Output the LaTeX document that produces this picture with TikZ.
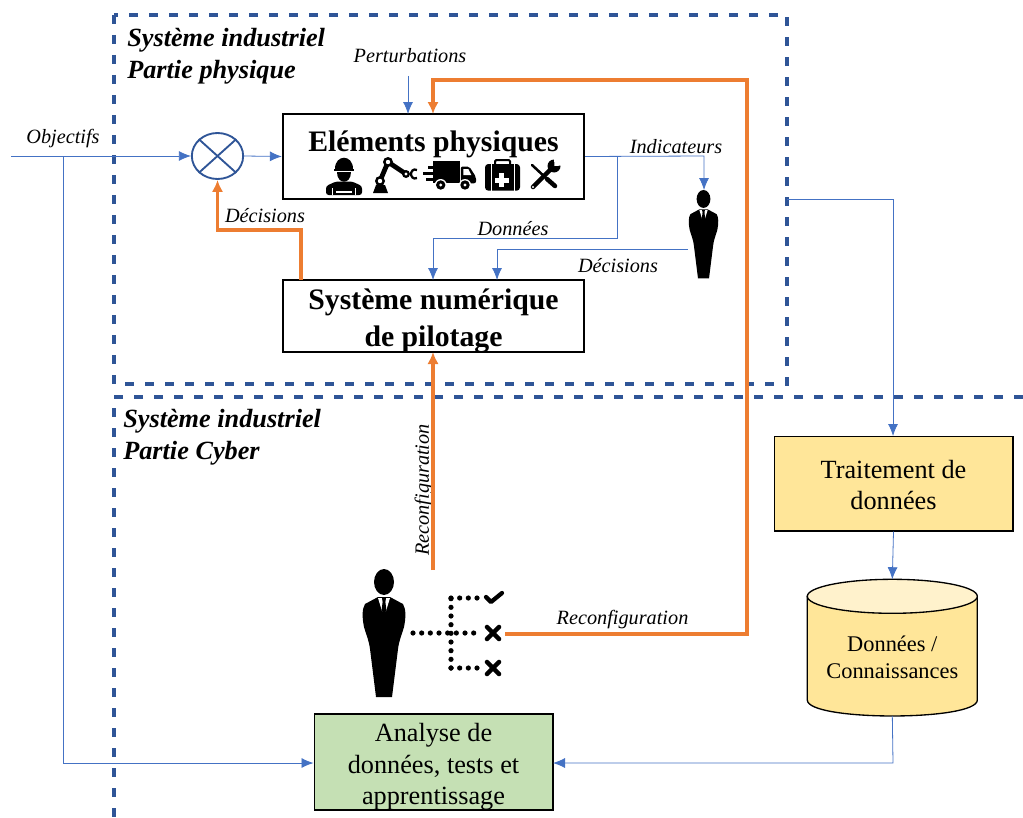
\documentclass[tikz,border=0pt]{standalone}
\usepackage{fontspec}
\setmainfont{Liberation Serif}
\usetikzlibrary{shapes.geometric, arrows.meta}
\definecolor{cadre}{HTML}{2F5597}
\definecolor{bleu}{HTML}{4472C4}
\definecolor{orange}{HTML}{ED7D31}
\definecolor{jaune}{HTML}{FFE699}
\definecolor{jauneclair}{HTML}{FFF2CC}
\definecolor{vert}{HTML}{C5E0B4}
\tikzstyle{module} = [rectangle, minimum width=226pt, draw=black, line width=1.5pt, text centered, align=center, inner sep=0pt]
\tikzstyle{flux} = [draw=bleu, line width=0.6pt, -{Latex[length=9pt,width=7.5pt]}]
\tikzstyle{action} = [draw=orange, line width=2.3pt, -{Latex[length=9pt,width=8.5pt]}]
\tikzstyle{legende} = [font=\fontsize{15.2pt}{18pt}\itshape\selectfont, inner sep=0pt]
\tikzstyle{titre} = [font=\fontsize{19.7pt}{24pt}\bfseries\itshape\selectfont, anchor=west, align=left, inner sep=0pt]
\tikzstyle{cadreligne} = [draw=cadre, line width=2.4pt, dash pattern=on 6.75pt off 8.25pt]
\tikzset{
    person/.pic={
        \fill[black] (0,13) ellipse (10 and 13);
        \fill[black] (-6,28) -- (-19,35) .. controls (-22,40) and (-22,48) .. (-20,58)
            .. controls (-17,68) and (-15,72) .. (-14,80) -- (-8,128) -- (8,128) -- (14,80)
            .. controls (15,72) and (17,68) .. (20,58) .. controls (22,48) and (22,40) .. (19,35) -- (6,28) -- cycle;
        \fill[white] (-6,29) -- (6,29) -- (2,42) -- (-2,42) -- cycle;
        \fill[black] (-2,29) -- (2,29) -- (1.4,33) -- (2.4,41) -- (0,44) -- (-2.4,41) -- (-1.4,33) -- cycle;
    },
    worker/.pic={
        \fill[black] (-9,-7) .. controls (-9,-22) and (9,-22) .. (9,-7) -- cycle;
        \fill[black] (-10,-7) rectangle (10,-5);
        \fill[black] (-7,-4) .. controls (-7,9) and (7,9) .. (7,-4) -- cycle;
        \fill[black, rounded corners=2pt] (-18,19) -- (-18,10) -- (-8,5.5) -- (8,5.5) -- (18,10) -- (18,19) -- cycle;
        \fill[white] (-12,19) -- (-12,12) -- (-10.8,12) -- (-10.8,19) -- cycle;
        \fill[white] (12,19) -- (12,12) -- (10.8,12) -- (10.8,19) -- cycle;
        \fill[white] (-8,15) rectangle (8,16.5);
    },
    robotarm/.pic={
        \fill[black] (-7,12) -- (-4,4) -- (5,4) -- (8,12) -- cycle;
        \draw[black, line width=3.6pt] (0,0) -- (8,-19);
        \draw[black, line width=3.6pt] (8,-19) -- (26,-7);
        \fill[black] (0,0) circle (5);
        \fill[white] (0,0) circle (2.2);
        \fill[black] (8,-19) circle (5);
        \fill[white] (8,-19) circle (2.2);
        \fill[black] (26,-7) circle (4);
        \fill[white] (26,-7) circle (1.7);
        \draw[black, line width=1.7pt] (37,-11) .. controls (33,-13) and (31,-9) .. (31,-7) .. controls (31,-5) and (33,-1) .. (37,-3);
    },
    truck/.pic={
        \fill[black] (-17,-15) rectangle (9.5,7.3);
        \fill[black, rounded corners=1.5pt] (10.5,-9.5) -- (19,-9.5) -- (25.7,1) -- (25.7,7.3) -- (10.5,7.3) -- cycle;
        \fill[white] (13,-7) -- (18,-7) -- (21,-1) -- (13,-1) -- cycle;
        \fill[black] (-22,-10) rectangle (-17,-7.5);
        \fill[black] (-27,-4) rectangle (-17,-1.5);
        \fill[black] (-24,2) rectangle (-17,4.5);
        \foreach \roue in {-9.6,14.7} {
            \fill[white] (\roue,9) circle (6);
            \fill[black] (\roue,9) circle (4.7);
            \fill[white] (\roue,9) circle (1.7);
        }
    },
    medkit/.pic={
        \fill[black, rounded corners=2.5pt] (-17,-11) rectangle (18,15.7);
        \draw[black, line width=1.5pt, rounded corners=1pt] (-7,-11) -- (-7,-15) -- (8,-15) -- (8,-11);
        \fill[white] (-11.5,-11) rectangle (-10.5,15.7);
        \fill[white] (11.8,-11) rectangle (12.8,15.7);
        \fill[white] (-2.8,-2) rectangle (2.2,12);
        \fill[white] (-7.3,2.5) rectangle (6.7,7.5);
    },
    tools/.pic={
        \draw[black, line width=1.9pt, line cap=round] (-12,-11) -- (2,2);
        \draw[black, line width=3.4pt, line cap=round] (3,3) -- (11,10);
        \draw[black, line width=3.4pt, line cap=round] (-11,11) -- (9,-9);
        \fill[white] (-11,11) circle (1.2);
        \fill[black] (10,-10) circle (6.5);
        \fill[white] (10.5,-10) -- (10,-18) -- (19,-18) -- (18.5,-10.5) -- cycle;
    },
    checklist/.pic={
        \draw[black, line width=3.9pt, line cap=round, dash pattern=on 0pt off 6.5pt] (0,0) -- (67,0);
        \draw[black, line width=3.9pt, line cap=round, dash pattern=on 0pt off 6.5pt] (38,-35) -- (67,-35);
        \draw[black, line width=3.9pt, line cap=round, dash pattern=on 0pt off 6.5pt] (38,35) -- (38,-35);
        \draw[black, line width=3.9pt, line cap=round, dash pattern=on 0pt off 6.5pt] (38,35) -- (67,35);
        \draw[black, line width=3.2pt, line cap=round, line join=round] (73,-36) -- (78,-31) -- (89,-40);
        \draw[black, line width=3.4pt, line cap=round] (74,-6) -- (86,6) (74,6) -- (86,-6);
        \draw[black, line width=3.4pt, line cap=round] (74,29) -- (86,41) (74,41) -- (86,29);
    }
}
\begin{document}
\begin{tikzpicture}[x=0.75pt, y=-0.75pt]
        \useasboundingbox (0,0) rectangle (1023,817);

        \coordinate (cadreA) at (114,15);
        \coordinate (cadreB) at (787,384);
        \coordinate (cadreC) at (1023,397);
        \coordinate (cadreD) at (114,397);
        \coordinate (cadreE) at (114,817);
        \draw[cadreligne] (cadreA) rectangle (cadreB);
        \draw[cadreligne] (cadreC) -- (cadreD) -- (cadreE);

        \node[titre] (titrePhysique) at (127,56.5) {Système industriel\\Partie physique};
        \node[titre] (titreCyber) at (123,437.5) {Système industriel\\Partie Cyber};

        \node[ellipse, draw=cadre, line width=1.4pt, minimum width=38.5pt, minimum height=34.5pt, inner sep=0pt] (comparateur) at (217.5,156) {};
        \draw[cadre, line width=1.4pt] (comparateur.north west) -- (comparateur.south east);
        \draw[cadre, line width=1.4pt] (comparateur.north east) -- (comparateur.south west);

        \node[module, minimum height=64pt, fill=white] (physiques) at (433.5,156.5) {};
        \pic at (344,176) {worker};
        \pic at (380,181) {robotarm};
        \pic at (450.3,176) {truck};
        \pic at (502,175) {medkit};
        \pic at (544,176) {tools};
        \node[inner sep=0pt, font=\fontsize{22.3pt}{24pt}\bfseries\selectfont] (physiquesTitre) at (433.5,144) {Eléments physiques};

        \node[module, minimum height=54pt, fill=white] (numerique) at (433.5,316) {};
        \node[inner sep=0pt, align=center, font=\fontsize{22.3pt}{27.5pt}\bfseries\selectfont] (numeriqueTitre) at (433.5,321) {Système numérique\\de pilotage};

        \pic[scale=0.69] at (703.5,190) {person};
        \pic at (384,569) {person};
        \pic at (413,633) {checklist};

        \node[module, line width=1pt, minimum width=179pt, minimum height=71pt, fill=jaune] (traitement) at (893.5,483.5) {};
        \node[inner sep=0pt, align=center, font=\fontsize{19.7pt}{23.25pt}\selectfont] (traitementTexte) at (893.5,485.5) {Traitement de\\données};

        \node[minimum width=127.5pt, minimum height=102pt, inner sep=0pt] (connaissances) at (892.3,647.5) {};
        \draw[black, line width=1pt, fill=jaune] (807.3,596.3) -- (807.3,700) .. controls (807.3,721.3) and (977.3,721.3) .. (977.3,700) -- (977.3,596.3) -- cycle;
        \draw[black, line width=1pt, fill=jauneclair] (892.3,596.3) ellipse (85 and 17);
        \node[inner sep=0pt, align=center, font=\fontsize{16.8pt}{20pt}\selectfont] (connaissancesTexte) at (892.3,657.5) {Données /\\Connaissances};

        \node[module, line width=1pt, minimum width=179pt, minimum height=72pt, fill=vert] (analyse) at (433.5,762) {};
        \node[inner sep=0pt, align=center, font=\fontsize{19.7pt}{23.5pt}\selectfont] (analyseTexte) at (433.5,767) {Analyse de\\données, tests et\\apprentissage};

        \node[legende] (lblObjectifs) at (63,139) {Objectifs};
        \node[legende] (lblPerturbations) at (410,56) {Perturbations};
        \node[legende] (lblIndicateurs) at (676,147) {Indicateurs};
        \node[legende] (lblDecisionsA) at (265,216) {Décisions};
        \node[legende] (lblDonnees) at (513,229) {Données};
        \node[legende] (lblDecisionsB) at (618,266) {Décisions};
        \node[legende, rotate=90] (lblReconfA) at (424,490) {Reconfiguration};
        \node[legende] (lblReconfB) at (622.5,620) {Reconfiguration};

        \coordinate (objectifs) at (11,156);
        \coordinate (brancheObj) at (63,156);
        \coordinate (basObj) at (63,763);
        \coordinate (perturb) at (408,76);
        \coordinate (perturbFin) at (408,114);
        \coordinate (retourFin) at (433,114);
        \coordinate (retourA) at (433,80);
        \coordinate (retourB) at (747,80);
        \coordinate (retourC) at (747,634);
        \coordinate (checkX) at (505,634);
        \coordinate (indicA) at (704,156);
        \coordinate (indicFin) at (704,190);
        \coordinate (brancheDon) at (617,156);
        \coordinate (donneesA) at (617,238);
        \coordinate (donneesB) at (433,238);
        \coordinate (donneesFin) at (433,280);
        \coordinate (operateur) at (688,249);
        \coordinate (decisionA) at (497,249);
        \coordinate (decisionFin) at (497,280);
        \coordinate (pilotDep) at (301,280);
        \coordinate (pilotA) at (301,230);
        \coordinate (pilotB) at (217.5,230);
        \coordinate (reconfDep) at (433,570);
        \coordinate (reconfFin) at (433,352);
        \coordinate (sortie) at (787,199);
        \coordinate (sortieA) at (893,199);
        \coordinate (sortieFin) at (893,436);
        \coordinate (baseA) at (893,763);
        \coordinate (analyseE) at (553,763);

        \draw[flux] (objectifs) -- (comparateur.west);
        \draw[flux] (brancheObj) -- (basObj) -- (analyse.west |- basObj);
        \draw[flux] (comparateur.east) -- (physiques.west);
        \draw[flux] (perturb) -- (perturbFin);
        \draw[flux] (physiques.east) -- (indicA) -- (indicFin);
        \draw[flux] (brancheDon) -- (donneesA) -- (donneesB) -- (donneesFin);
        \draw[flux] (operateur) -- (decisionA) -- (decisionFin);
        \draw[flux] (sortie) -- (sortieA) -- (sortieFin);
        \draw[flux] (traitement.south) -- (connaissances.north);
        \draw[flux] (connaissances.south) -- (baseA) -- (analyseE);

        \draw[action] (checkX) -- (retourC) -- (retourB) -- (retourA) -- (retourFin);
        \draw[action] (pilotDep) -- (pilotA) -- (pilotB) -- (comparateur.south);
        \draw[action] (reconfDep) -- (reconfFin);
    \end{tikzpicture}
\end{document}
